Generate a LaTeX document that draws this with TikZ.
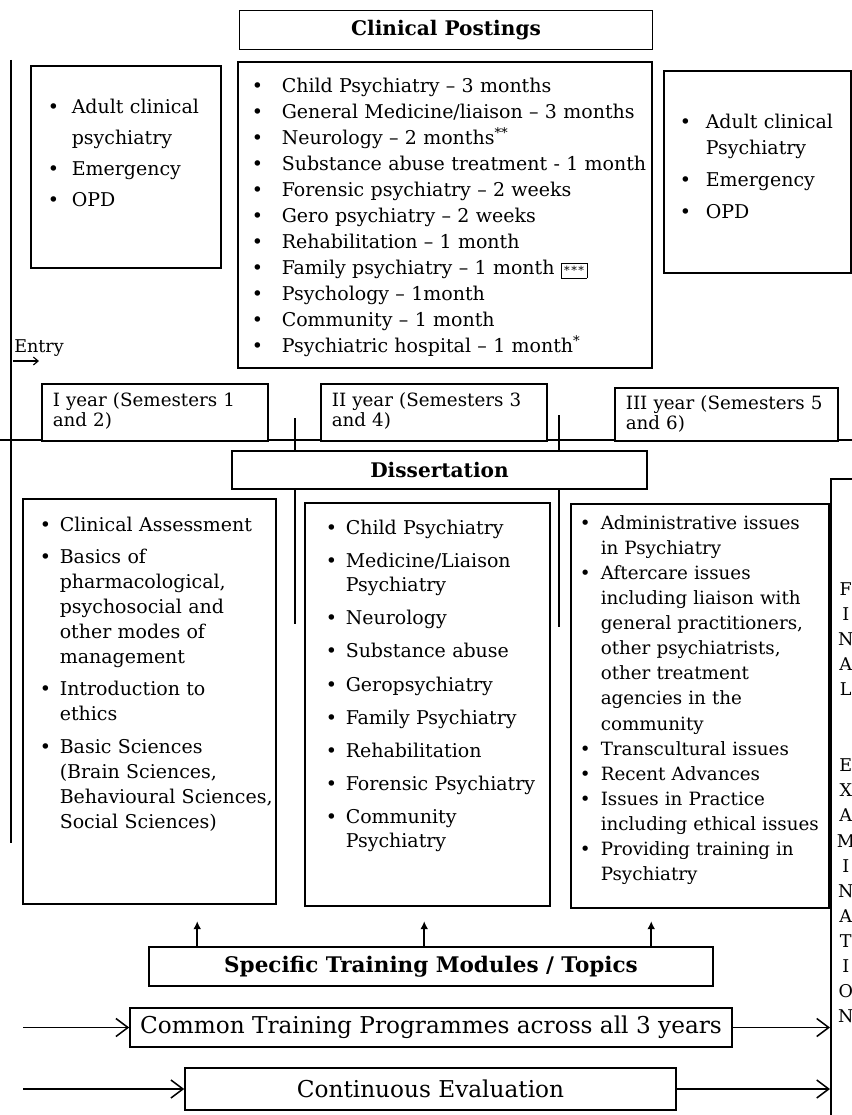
\documentclass[tikz,border=0pt]{standalone}
\usepackage{fontspec}
\setmainfont{DejaVu Serif}
\usetikzlibrary{
  arrows.meta,
  positioning,
  backgrounds
}
\newdimen\pxu
\pxu=0.025cm
\newlength\bulind
\newlength\itmgap
\newcommand\bitem[1]{\leavevmode\hbox to\bulind{\textbullet\hfil}%
  \begin{tabular}[t]{@{}l@{}}#1\end{tabular}}
\newcommand\bnext{\par\vspace{\itmgap}}
\tikzset{
  box/.style={
    rectangle, draw, line width=1.1pt, fill=white
  },
  title box/.style={box,
    inner sep=0pt, font=\fontsize{14.3}{16}\selectfont\bfseries},
  band box/.style={box,
    inner sep=0pt, font=\fontsize{16.5}{18}\selectfont},
  list box/.style={box,
    anchor=north west, align=left, inner ysep=0pt},
  bullets/.style n args={4}{
    font={\fontsize{#4}{#1}\selectfont\lineskip=0pt
      \setlength\bulind{#2\pxu}\setlength\itmgap{#3\pxu}}},
  year box/.style={box,
    anchor=north west, align=left, inner ysep=0pt, inner xsep=11\pxu,
    font=\fontsize{13}{14.2}\selectfont},
  frame line/.style={line width=1.1pt},
  feed/.style={-{Straight Barb[length=3mm,width=4.5mm]}, line width=1.1pt},
  lift/.style={-{Latex[length=2mm,width=2mm]}, line width=1.1pt},
  entry arrow/.style={-{Straight Barb[length=1.2mm,width=2mm]}, line width=0.8pt},
}

\begin{document}
\begin{tikzpicture}[x=0.025cm, y=-0.025cm]
  \useasboundingbox (0,0) rectangle (852,1115);

  % Nodes
  \node[title box, minimum width=413\pxu, minimum height=39\pxu]
    (postings) at (446,30) {Clinical Postings};

  \node[list box, bullets={22}{24}{0}{13.5}, text width=156\pxu, inner xsep=17\pxu,
        text height=48\pxu, text depth=154\pxu]
    (adultI) at (30,65)
    {\bitem{Adult clinical\\psychiatry}\bnext
     \bitem{Emergency}\bnext
     \bitem{OPD}};

  \node[list box, bullets={18.5}{30}{0}{13.5}, text width=386\pxu, inner xsep=14\pxu,
        text height=31\pxu, text depth=275\pxu]
    (rotations) at (237,61)
    {\bitem{Child Psychiatry -- 3 months}\bnext
     \bitem{General Medicine/liaison -- 3 months}\bnext
     \bitem{Neurology -- 2 months\textsuperscript{**}}\bnext
     \bitem{Substance abuse treatment - 1 month}\bnext
     \bitem{Forensic psychiatry -- 2 weeks}\bnext
     \bitem{Gero psychiatry -- 2 weeks}\bnext
     \bitem{Rehabilitation -- 1 month}\bnext
     \bitem{Family psychiatry -- 1 month {\setlength\fboxsep{2pt}\fbox{\footnotesize *\kern1pt*\kern1pt*}}}\bnext
     \bitem{Psychology -- 1month}\bnext
     \bitem{Community -- 1 month}\bnext
     \bitem{Psychiatric hospital -- 1 month\textsuperscript{*}}};

  \node[list box, bullets={18.5}{26}{6}{13.5}, text width=155\pxu, inner xsep=16\pxu,
        text height=58\pxu, text depth=144\pxu]
    (adultIII) at (663,70)
    {\bitem{Adult clinical\\Psychiatry}\bnext
     \bitem{Emergency}\bnext
     \bitem{OPD}};

  \node[anchor=west, inner sep=0pt, font=\fontsize{12.5}{14}\selectfont]
    (entry) at (14,348) {Entry};

  \node[year box, text width=204\pxu, text height=23\pxu, text depth=34\pxu]
    (yearI) at (41,383) {I year (Semesters 1\\and 2)};
  \node[year box, text width=204\pxu, text height=23\pxu, text depth=34\pxu]
    (yearII) at (320,383) {II year (Semesters 3\\and 4)};
  \node[year box, text width=201\pxu, text height=22\pxu, text depth=31\pxu]
    (yearIII) at (614,387) {III year (Semesters 5\\and 6)};

  \node[title box, minimum width=415\pxu, minimum height=38\pxu]
    (dissertation) at (439.5,470) {Dissertation};

  \node[list box, bullets={17.8}{20}{7}{13.5}, text width=219\pxu, inner xsep=17\pxu,
        text height=33\pxu, text depth=372\pxu]
    (modA) at (22,498)
    {\bitem{Clinical Assessment}\bnext
     \bitem{Basics of\\pharmacological,\\psychosocial and\\other modes of\\management}\bnext
     \bitem{Introduction to\\ethics}\bnext
     \bitem{Basic Sciences\\(Brain Sciences,\\Behavioural Sciences,\\Social Sciences)}};

  \node[list box, bullets={17.1}{20}{9}{13.5}, text width=203\pxu, inner xsep=21\pxu,
        text height=32\pxu, text depth=371\pxu]
    (modB) at (304,502)
    {\bitem{Child Psychiatry}\bnext
     \bitem{Medicine/Liaison\\Psychiatry}\bnext
     \bitem{Neurology}\bnext
     \bitem{Substance abuse}\bnext
     \bitem{Geropsychiatry}\bnext
     \bitem{Family Psychiatry}\bnext
     \bitem{Rehabilitation}\bnext
     \bitem{Forensic Psychiatry}\bnext
     \bitem{Community\\Psychiatry}};

  \node[list box, bullets={17.8}{21}{0}{13}, text width=240\pxu, inner xsep=9\pxu,
        text height=26\pxu, text depth=378\pxu]
    (modC) at (570,503)
    {\bitem{Administrative issues\\in Psychiatry}\bnext
     \bitem{Aftercare issues\\including liaison with\\general practitioners,\\other psychiatrists,\\other treatment\\agencies in the\\community}\bnext
     \bitem{Transcultural issues}\bnext
     \bitem{Recent Advances}\bnext
     \bitem{Issues in Practice\\including ethical issues}\bnext
     \bitem{Providing training in\\Psychiatry}};

  \node[box, anchor=north west, align=center, text width=30\pxu, inner sep=0pt,
        text height=117\pxu, text depth=543\pxu,
        font=\fontsize{12.5}{17.8}\selectfont]
    (final) at (830,478)
    {F\\I\\N\\A\\L\\[51\pxu]E\\X\\A\\M\\I\\N\\A\\T\\I\\O\\N};

  \node[title box, font=\fontsize{15.3}{17}\selectfont\bfseries,
        minimum width=564\pxu, minimum height=39\pxu]
    (spec) at (431,966.5) {Specific Training Modules / Topics};
  \node[band box, minimum width=602\pxu, minimum height=39\pxu]
    (common) at (431,1027.5) {Common Training Programmes across all 3 years};
  \node[band box, minimum width=491\pxu, minimum height=42\pxu]
    (contEval) at (430.5,1089) {Continuous Evaluation};

  % Frame lines
  \coordinate (spineTop) at (11,60);
  \coordinate (spineEnd) at (11,843);
  \coordinate (rowL) at (0,440);
  \coordinate (rowR) at (852,440);
  \coordinate (splitA) at (295,418);
  \coordinate (splitB) at (559,415);
  \begin{scope}[on background layer]
    \draw[frame line] (spineTop) -- (spineEnd);
    \draw[frame line] (rowL) -- (rowR);
    \draw[frame line] (splitA) -- ++(0,206);
    \draw[frame line] (splitB) -- ++(0,212);
  \end{scope}

  % Arrows
  \coordinate (entryTail) at (13,361);
  \draw[entry arrow] (entryTail) -- ++(26,0);
  \foreach \dx in {49,276,503}
    \draw[lift] ([xshift=\dx\pxu]spec.north west) -- ++(0,-25);
  \coordinate (commonIn) at (23,1027.5);
  \coordinate (evalIn) at (23,1089);
  \draw[feed] (commonIn) -- (common.west);
  \draw[feed] (common.east) -- (common.east -| final.west);
  \draw[feed] (evalIn) -- (contEval.west);
  \draw[feed] (contEval.east) -- (contEval.east -| final.west);
\end{tikzpicture}
\end{document}
